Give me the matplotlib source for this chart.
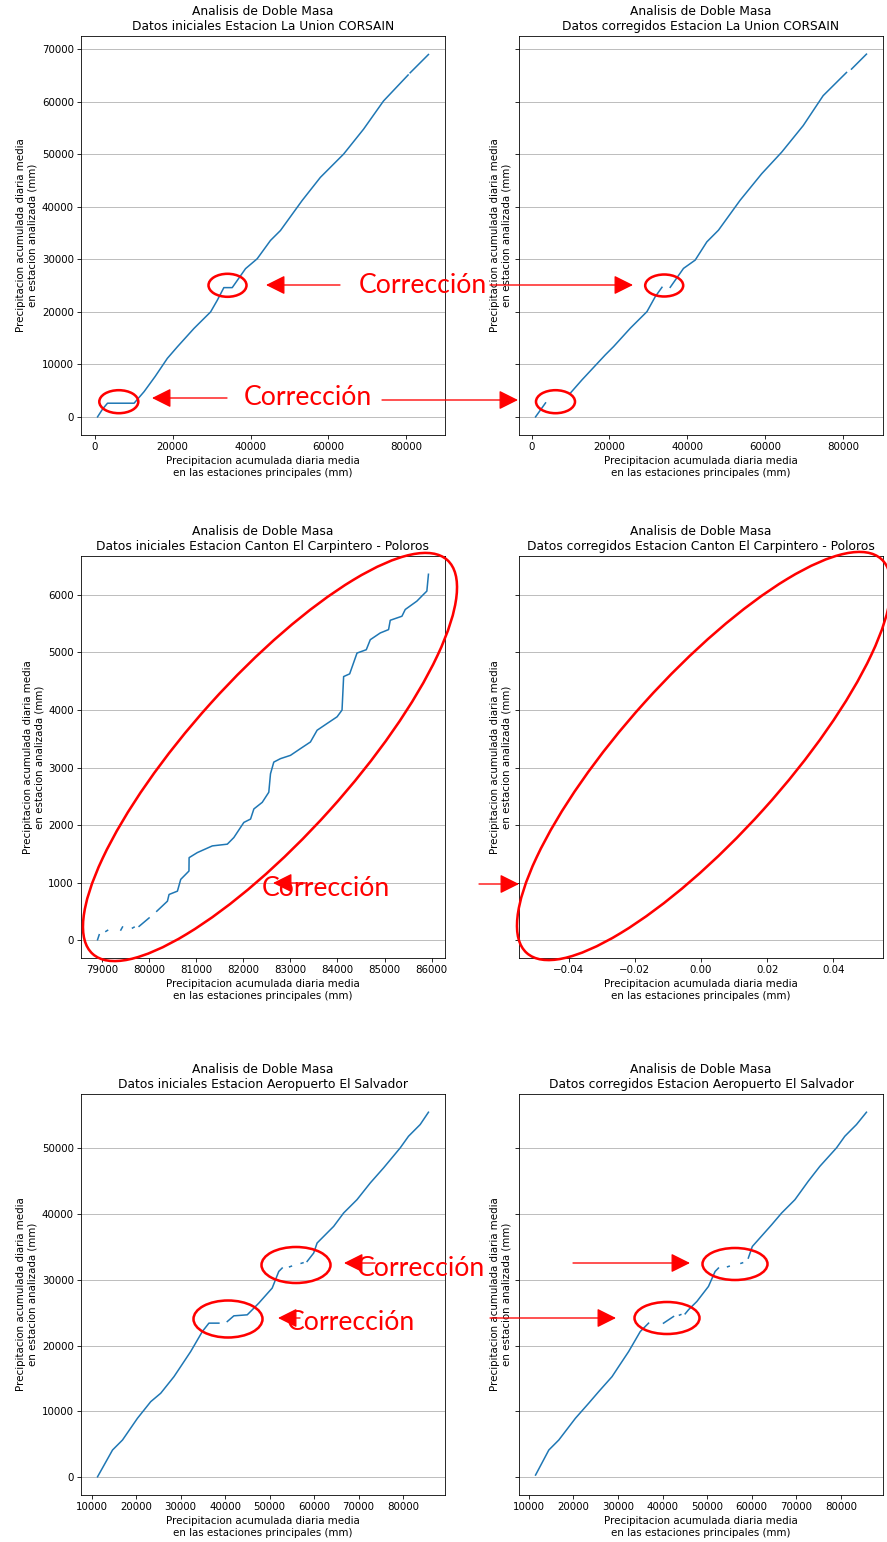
import numpy as np
import matplotlib
matplotlib.use('Agg')
import matplotlib.pyplot as plt
from matplotlib.patches import Ellipse

nan = np.nan

# --- La Union CORSAIN ---
lu_x_ini = [690, 2000, 3250, 6500, 10080, 12650, 15500, 18630, 21200, 25460, 29740, 31460,
            33150, 35300, 38720, 41720, 45130, 47690, 53250, 57950, 63930, 69050, 74180,
            80500, nan, 81030, 85730]
lu_y_ini = [0, 1500, 2600, 2600, 2600, 4800, 7700, 11140, 13340, 16830, 19980, 22200,
            24610, 24610, 28220, 30110, 33590, 35480, 41180, 45600, 50040, 54780, 60150,
            65100, nan, 65520, 69000]
lu_x_cor = [1025, 3590, nan, 9990, 12990, 18950, 21080, 25360, 29630, 31760, 33480, nan,
            35600, 39010, 42010, 45000, 47980, 53530, 59090, 64210, 69740, 74860, 80860,
            nan, 82140, 85980]
lu_y_cor = [0, 2660, nan, 4550, 7080, 11820, 13400, 16890, 20040, 22890, 24670, nan,
            24670, 28270, 29850, 33320, 35540, 41230, 46300, 50400, 55460, 61160, 65580,
            nan, 66220, 69070]

# --- Canton El Carpintero - Poloros ---
cc_x_ini = [78906, 78941, nan, 79083, 79119, nan, 79400, 79436, nan, 79648, 79682, nan,
            79788, 80000, nan, 80163, 80390, 80424, 80602, 80672, 80847, 80850, 81025,
            81343, 81661, 81800, 82012, 82155, 82225, 82403, 82542, 82578, 82648, 82790,
            83002, 83214, 83426, 83568, 83780, 83992, 84097, 84131, 84259, 84415, 84612,
            84697, 84909, 85085, 85121, 85369, 85439, 85686, 85826, 85898, 85932]
cc_y_ini = [12, 99, nan, 157, 175, nan, 180, 233, nan, 215, 230, nan,
            244, 390, nan, 506, 681, 797, 855, 1059, 1204, 1436, 1524,
            1640, 1670, 1785, 2047, 2106, 2281, 2396, 2571, 2891, 3094, 3154,
            3211, 3328, 3443, 3647, 3764, 3880, 3997, 4578, 4625, 4986, 5044,
            5218, 5335, 5393, 5555, 5625, 5742, 5887, 6003, 6061, 6353]
cc_x_cor = []
cc_y_cor = []

# --- Aeropuerto El Salvador ---
ae_x_ini = [11345, 14709, 16951, 20314, 23296, 25538, 28520, 30022, 32265, 34888, 36368,
            38610, nan, 40493, 41973, 44978, 46099, 47578, 50583, 52063, 52825, nan,
            54500, 54900, nan, 57100, 57500, nan, 58430, 59910, 60673, 64395, 66637,
            69641, 72623, 75606, 79350, 81211, 83834, 85695]
ae_y_ini = [90, 4149, 5669, 8967, 11489, 12766, 15289, 16808, 19088, 22128, 23404,
            23404, nan, 23647, 24514, 24666, 25426, 26444, 28723, 31246, 31763, nan,
            31950, 32050, nan, 32480, 32560, nan, 32766, 34043, 35562, 38085, 40122,
            42143, 44681, 46960, 50000, 51763, 53541, 55410]
ae_x_cor = [11500, 14480, 16720, 20450, 23430, 25670, 28670, 30150, 32390, 35000, 36860,
            nan, 40220, 42460, nan, 43800, 44100, nan, 45080, 45820, 47700, 50300, 51800,
            52540, nan, 54600, 54950, nan, 57600, 57950, nan, 59250, 60150, 64490, 66730,
            69710, 72680, 75300, 79040, 80900, 83520, 85760]
ae_y_cor = [350, 4150, 5670, 8970, 11250, 13010, 15290, 16810, 19090, 22130, 23400,
            nan, 23400, 24410, nan, 24620, 24700, nan, 24820, 25430, 26690, 28970, 31250,
            31760, nan, 31960, 32040, nan, 32480, 32560, nan, 33280, 35040, 38340, 40120,
            42140, 44920, 47200, 50000, 51760, 53540, 55410]

estaciones = ['La Union CORSAIN', 'Canton El Carpintero - Poloros', 'Aeropuerto El Salvador']
series = [(lu_x_ini, lu_y_ini, lu_x_cor, lu_y_cor),
          (cc_x_ini, cc_y_ini, cc_x_cor, cc_y_cor),
          (ae_x_ini, ae_y_ini, ae_x_cor, ae_y_cor)]

DPI = 73.5
fig = plt.figure(figsize=(888 / DPI, 1542 / DPI), dpi=DPI)

# axes boxes in pixels: (left, top, right, bottom)
rows_px = [(36, 435), (556, 958), (1094, 1495)]
cols_px = [(81, 445), (519, 883)]

def px_box(l, t, r, b):
    return [l / 888, (1542 - b) / 1542, (r - l) / 888, (b - t) / 1542]

ylab = 'Precipitacion acumulada diaria media\nen estacion analizada (mm)'
xlab = 'Precipitacion acumulada diaria media\nen las estaciones principales (mm)'

for i, (est, (xi, yi, xc, yc)) in enumerate(zip(estaciones, series)):
    t, b = rows_px[i]
    ax1 = fig.add_axes(px_box(cols_px[0][0], t, cols_px[0][1], b))
    ax2 = fig.add_axes(px_box(cols_px[1][0], t, cols_px[1][1], b), sharey=ax1)
    ax1.plot(xi, yi, color='#1f77b4')
    ax2.plot(xc, yc, color='#1f77b4')
    if len(xc) == 0:
        ax2.set_xlim(-0.055, 0.055)
    ax1.set_title('Analisis de Doble Masa\nDatos iniciales Estacion ' + est)
    ax2.set_title('Analisis de Doble Masa\nDatos corregidos Estacion ' + est)
    for ax in (ax1, ax2):
        ax.grid(axis='y')
        ax.set_ylabel(ylab)
        ax.set_xlabel(xlab)
    ax2.tick_params(labelleft=False)

# annotations layer (figure pixels)
ov = fig.add_axes([0, 0, 1, 1], zorder=10)
ov.set_xlim(0, 888)
ov.set_ylim(1542, 0)
ov.axis('off')
ov.patch.set_visible(False)

ellipses = [(227.5, 285.3, 38, 23, 0), (118.8, 401.7, 39, 23, 0),
            (664.2, 285.5, 38, 22, 0), (555.5, 401.7, 39, 23, 0),
            (270, 757, 530, 160, -48), (704, 756, 530, 160, -48),
            (228, 1319, 69, 37, 0), (296, 1265, 69, 36, 0),
            (735, 1264, 65, 32, 0), (667, 1318, 65, 32, 0)]
for cx, cy, w, h, ang in ellipses:
    ov.add_patch(Ellipse((cx, cy), w, h, angle=ang, fill=False, ec='red', lw=2.5))

arrows = [(340, 266, 285), (227, 152, 398), (382, 518, 400), (490, 633, 285),
          (305, 273, 883), (479, 519, 884),
          (375, 344, 1263), (300, 278, 1318), (573, 690, 1263), (490, 616, 1318)]
for x0, x1, y in arrows:
    ov.annotate('', xy=(x1, y), xytext=(x0, y),
                arrowprops=dict(arrowstyle='-|>,head_length=0.8,head_width=0.4',
                                color='red', lw=1.3, mutation_scale=20,
                                shrinkA=0, shrinkB=0))

textos = [(359, 293), (244, 405), (262, 896), (357, 1276), (287, 1330)]
labels = []
for x, y in textos:
    labels.append(ov.text(x, y, 'Corrección', color='red', fontsize=24,
                          family=['Lato', 'DejaVu Sans'], va='baseline', ha='left'))
fig.canvas.draw()
r = fig.canvas.get_renderer()
w = labels[0].get_window_extent(r).width
for tx in labels:
    tx.set_fontsize(24 * 128 / w)

fig.savefig('out.png', dpi=DPI)
